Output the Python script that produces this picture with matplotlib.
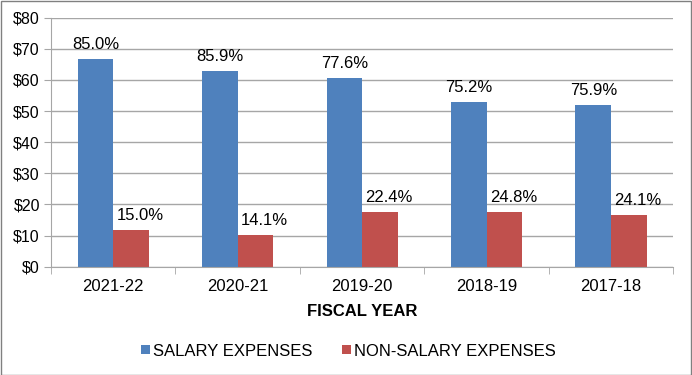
import matplotlib.pyplot as plt
import numpy as np
from matplotlib.patches import Rectangle

plt.rcParams['font.family'] = ['Liberation Sans', 'DejaVu Sans']

years = ["2021-22", "2020-21", "2019-20", "2018-19", "2017-18"]
salary = [66.7, 63.0, 60.7, 53.0, 51.9]
non_salary = [11.8, 10.3, 17.6, 17.6, 16.5]
salary_pct = ["85.0%", "85.9%", "77.6%", "75.2%", "75.9%"]
non_salary_pct = ["15.0%", "14.1%", "22.4%", "24.8%", "24.1%"]

blue = "#4F81BD"
red = "#C0504D"
grid = "#A6A6A6"

fig = plt.figure(figsize=(6.92, 3.75), dpi=100)
ax = fig.add_axes([51 / 692, 1 - 266.7 / 375, (673.3 - 51) / 692, (266.7 - 17.7) / 375])

x = np.arange(len(years))
w = 0.286
b1 = ax.bar(x - w / 2, salary, w, color=blue, label="SALARY EXPENSES", zorder=2)
b2 = ax.bar(x + w / 2, non_salary, w, color=red, label="NON-SALARY EXPENSES", zorder=2)

for i in range(len(years)):
    ax.annotate(salary_pct[i], (x[i] - w / 2, salary[i]), xytext=(0, 5),
                textcoords="offset points", ha="center", va="bottom", fontsize=12)
    ax.annotate(non_salary_pct[i], (x[i] + w / 2, non_salary[i]), xytext=(6.5, 5),
                textcoords="offset points", ha="center", va="bottom", fontsize=12)

ax.set_xlim(-0.5, len(years) - 0.5)
ax.set_ylim(0, 80)
ax.set_yticks(range(0, 81, 10))
ax.set_yticklabels(["$%d" % v for v in range(0, 81, 10)], fontsize=11.5)
ax.set_xticks(x)
ax.set_xticklabels(years, fontsize=12)
ax.tick_params(axis="x", length=0, pad=9)
ax.set_xticks(np.arange(-0.5, len(years), 1), minor=True)
ax.tick_params(axis="x", which="minor", length=5, color=grid)
ax.tick_params(axis="y", length=5, color=grid, pad=3)
ax.yaxis.grid(True, color=grid, linewidth=1, zorder=0)
ax.set_axisbelow(True)
for s in ["top", "right"]:
    ax.spines[s].set_visible(False)
for s in ["left", "bottom"]:
    ax.spines[s].set_color(grid)

ax.set_xlabel("FISCAL YEAR", fontsize=12, fontweight="bold", labelpad=7)

fig.legend(handles=[b1, b2], loc="center", bbox_to_anchor=(348.5 / 692, 1 - 351 / 375),
           ncol=2, frameon=False, fontsize=12, handlelength=0.52, handleheight=0.52,
           handletextpad=0.2, columnspacing=1.8, borderpad=0)

fig.patches.append(Rectangle((0.5 / 692, 0.5 / 375), 1 - 1.5 / 692, 1 - 1.5 / 375,
                             transform=fig.transFigure, fill=False, edgecolor="#808080",
                             linewidth=1))

fig.savefig("out.png", dpi=100)
